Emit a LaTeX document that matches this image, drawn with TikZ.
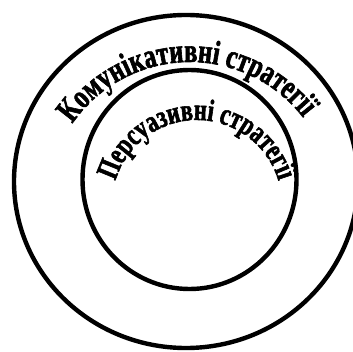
\documentclass[tikz,border=0pt]{standalone}
\usepackage{fontspec}
\setmainfont{Liberation Serif}
\newfontfamily\arcfont{Liberation Serif}[FakeStretch=0.72, BoldFeatures={FakeBold=1.8}]
\usetikzlibrary{decorations.text}

\begin{document}
\begin{tikzpicture}[
  x=1pt, y=1pt,
  ring/.style={draw, line width=4.4pt},
  arctext/.style 2 args={decorate, decoration={text along path, text align=center,
    text={|\arcfont\bfseries\fontsize{#1}{#1}\selectfont|#2}}}
]
  \useasboundingbox (0,0) rectangle (353,351);

  \coordinate (outer) at (186,169.5);
  \coordinate (inner) at (189.5,171.5);
  \coordinate (outertext) at (190,146);
  \coordinate (innertext) at (197,146);

  % circles
  \draw[ring] (outer) ellipse [x radius=172, y radius=166.5];
  \draw[ring] (inner) ellipse [x radius=107, y radius=109.5];

  % curved labels
  \path[arctext={34pt}{Комунікативні стратегії}]
    ([shift={(148:143)}]outertext) arc[start angle=148, end angle=35, radius=143];
  \path[arctext={31pt}{Персуазивні стратегії}]
    ([shift={(177:85)}]innertext) arc[start angle=177, end angle=3, radius=85];
\end{tikzpicture}
\end{document}
